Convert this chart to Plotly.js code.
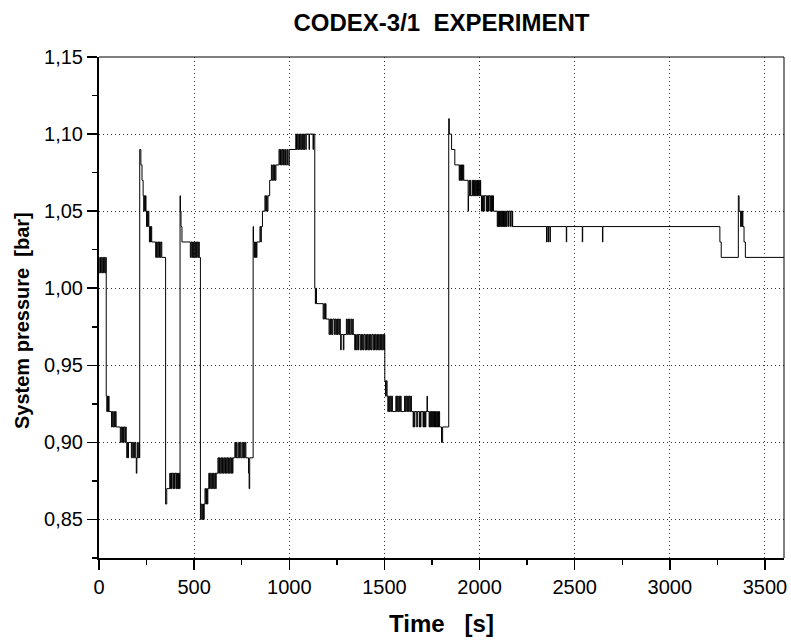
<!DOCTYPE html>
<html>
<head>
<meta charset="utf-8">
<script src="https://cdn.plot.ly/plotly-3.0.1.min.js"></script>
<style>html,body{margin:0;padding:0;background:#fff;}#chart{width:791px;height:641px;}</style>
</head>
<body>
<div id="chart"></div>
<script>
// Time [s] of each recorded sample (step-wise signal)
const timeS = [
  0,4,8,12,16,20,24,28,32,36,
  38,41,44,47,50,53,66,70,74,78,82,86,90,
  112,116,120,124,128,131,136,140,143,146,149,152,155,
  170,174,178,182,186,190,194,196,199,203,206,210,213,
  214,220,226,232,235,238,241,244,247,250,253,256,259,262,265,268,271,274,277,
  298,302,306,310,314,318,322,326,330,
  350,356,372,375,378,381,384,390,393,396,399,405,408,411,414,417,420,423,
  426,428,431,436,480,484,488,492,496,500,504,508,512,516,520,524,527,
  533,537,541,545,549,553,557,561,565,569,572,
  577,581,585,589,593,597,601,605,609,613,616,
  625,629,633,637,641,645,649,653,657,661,665,669,673,677,681,685,689,693,697,701,704,
  714,718,722,726,734,738,742,746,752,756,760,764,768,772,786,789,792,
  810,812,815,818,821,824,827,830,846,850,853,859,872,876,880,884,888,897,
  906,910,914,918,922,926,930,
  946,950,954,958,962,966,970,974,980,984,990,994,1000,
  1034,1038,1042,1046,1050,1054,1058,1062,1066,1070,1074,1078,1081,1087,1089,1104,1106,1125,1127,
  1134,1137,1140,1143,1178,1182,1186,1190,1193,
  1209,1213,1217,1221,1225,1229,1237,1241,1245,1249,1253,1257,1261,1265,1268,1270,1273,1284,1287,
  1300,1304,1308,1312,1316,1320,1326,1330,1334,1336,
  1344,1348,1352,1356,1360,1364,1372,1376,1380,1384,1388,1392,1398,1402,1406,1410,1414,1418,1422,
  1426,1430,1434,1440,1444,1448,1452,1456,1460,1464,1468,1472,1476,1480,1484,1488,1492,1496,1500,
  1502,1506,1510,1514,1518,1522,1526,1530,1534,1538,1542,
  1560,1564,1568,1572,1576,1580,1584,1588,
  1606,1610,1614,1618,1622,1626,1630,1634,1638,1642,
  1651,1654,1657,1660,1670,1673,1683,1686,1689,1692,1703,1706,1709,1712,1715,1718,1724,1726,
  1735,1738,1741,1744,1748,1751,1754,1757,1760,1763,1766,1769,1772,1775,1778,1781,1784,1787,1790,1800,1806,
  1838,1841,1853,1870,1893,1896,1899,1902,1905,1908,1911,1914,1917,
  1940,1942,1945,1948,1951,1954,1962,1965,1968,1971,1974,1977,1980,1983,1986,1989,1992,1995,1998,2001,2004,2006,
  2010,2013,2016,2019,2022,2025,2035,2038,2041,2044,2047,2050,2056,2059,2062,2065,2068,2071,2073,
  2093,2096,2099,2102,2105,2108,2111,2114,2117,2120,2123,2126,2129,2132,2135,2138,2141,2144,2150,2152,2160,2162,2170,2172,2174,
  2352,2354,2360,2362,2370,2372,2456,2458,2540,2542,2646,2648,
  3263,3270,3360,3364,3372,3375,3378,3381,3384,3390,3397,3600
];
// System pressure [bar] at each sample
const pressureBar = [
  1.01,1.02,1.01,1.02,1.01,1.02,1.01,1.02,1.01,1.02,
  0.93,0.92,0.93,0.92,0.93,0.92,0.91,0.92,0.91,0.92,0.91,0.92,0.91,
  0.90,0.91,0.90,0.91,0.90,0.91,0.90,0.91,0.90,0.89,0.90,0.89,0.90,
  0.89,0.90,0.89,0.90,0.89,0.90,0.89,0.88,0.89,0.90,0.89,0.90,0.89,
  1.09,1.08,1.07,1.06,1.05,1.06,1.05,1.06,1.05,1.04,1.05,1.04,1.05,1.04,1.03,1.04,1.03,1.04,1.03,
  1.02,1.03,1.02,1.03,1.02,1.03,1.02,1.03,1.02,
  0.86,0.87,0.88,0.87,0.88,0.87,0.88,0.87,0.88,0.87,0.88,0.87,0.88,0.87,0.88,0.87,0.88,0.87,
  1.06,1.05,1.04,1.03,1.02,1.03,1.02,1.03,1.02,1.03,1.02,1.03,1.02,1.03,1.02,1.03,1.02,
  0.85,0.86,0.85,0.86,0.85,0.86,0.87,0.86,0.87,0.86,0.87,
  0.88,0.87,0.88,0.87,0.88,0.87,0.88,0.87,0.88,0.87,0.88,
  0.89,0.88,0.89,0.88,0.89,0.88,0.89,0.88,0.89,0.88,0.89,0.88,0.89,0.88,0.89,0.88,0.89,0.88,0.89,0.88,0.89,
  0.90,0.89,0.90,0.89,0.90,0.89,0.90,0.89,0.90,0.89,0.90,0.89,0.90,0.89,0.88,0.87,0.89,
  1.04,1.03,1.02,1.03,1.02,1.03,1.02,1.03,1.04,1.03,1.04,1.05,1.06,1.05,1.06,1.05,1.06,1.07,
  1.08,1.07,1.08,1.07,1.08,1.07,1.08,
  1.09,1.08,1.09,1.08,1.09,1.08,1.09,1.08,1.09,1.08,1.09,1.08,1.09,
  1.10,1.09,1.10,1.09,1.10,1.09,1.10,1.09,1.10,1.09,1.10,1.09,1.10,1.09,1.10,1.09,1.10,1.09,1.10,
  1.00,0.99,1.00,0.99,0.98,0.99,0.98,0.99,0.98,
  0.97,0.98,0.97,0.98,0.97,0.98,0.97,0.98,0.97,0.98,0.97,0.98,0.97,0.98,0.97,0.96,0.97,0.96,0.97,
  0.98,0.97,0.98,0.97,0.98,0.97,0.98,0.97,0.98,0.97,
  0.96,0.97,0.96,0.97,0.96,0.97,0.96,0.97,0.96,0.97,0.96,0.97,0.96,0.97,0.96,0.97,0.96,0.97,0.96,
  0.97,0.96,0.97,0.96,0.97,0.96,0.97,0.96,0.97,0.96,0.97,0.96,0.97,0.96,0.97,0.96,0.97,0.96,0.97,
  0.94,0.93,0.94,0.93,0.92,0.93,0.92,0.93,0.92,0.93,0.92,
  0.93,0.92,0.93,0.92,0.93,0.92,0.93,0.92,
  0.93,0.92,0.93,0.92,0.93,0.92,0.93,0.92,0.93,0.92,
  0.91,0.92,0.91,0.92,0.91,0.92,0.91,0.92,0.91,0.92,0.91,0.92,0.91,0.92,0.91,0.92,0.93,0.92,
  0.91,0.92,0.91,0.92,0.91,0.92,0.91,0.92,0.91,0.92,0.91,0.92,0.91,0.92,0.91,0.92,0.91,0.92,0.91,0.90,0.91,
  1.11,1.10,1.09,1.08,1.07,1.08,1.07,1.08,1.07,1.08,1.07,1.08,1.07,
  1.05,1.06,1.07,1.06,1.07,1.06,1.07,1.06,1.07,1.06,1.07,1.06,1.07,1.06,1.07,1.06,1.07,1.06,1.07,1.06,1.07,1.06,
  1.05,1.06,1.05,1.06,1.05,1.06,1.05,1.06,1.05,1.06,1.05,1.06,1.05,1.06,1.05,1.06,1.05,1.06,1.05,
  1.04,1.05,1.04,1.05,1.04,1.05,1.04,1.05,1.04,1.05,1.04,1.05,1.04,1.05,1.04,1.05,1.04,1.05,1.04,1.05,1.04,1.05,1.04,1.05,1.04,
  1.03,1.04,1.03,1.04,1.03,1.04,1.03,1.04,1.03,1.04,1.03,1.04,
  1.03,1.02,1.06,1.05,1.04,1.05,1.04,1.05,1.04,1.03,1.02,1.02
];
const chartTitle = 'CODEX-3/1\u00a0\u00a0EXPERIMENT';
const xTitle = 'Time\u00a0\u00a0\u00a0[s]';
const yTitle = 'System pressure\u00a0\u00a0[bar]';

const FONT = 'Liberation Sans, Arial, Helvetica, sans-serif';

const trace = {
  x: timeS, y: pressureBar, type: 'scatter', mode: 'lines',
  line: {color: '#000', width: 1, shape: 'hv'},
  hoverinfo: 'skip', showlegend: false
};

const axisCommon = {
  showline: true, linecolor: '#000', linewidth: 2,
  ticks: 'outside', ticklen: 10, tickwidth: 1.5, tickcolor: '#000',
  showgrid: true, gridcolor: '#333', gridwidth: 1, griddash: '1px,3px',
  zeroline: false, tickfont: {family: FONT, size: 20, color: '#000'},
  mirror: false
};

const layout = {
  width: 791, height: 641,
  margin: {l: 99, r: 7, t: 57, b: 83},
  paper_bgcolor: '#fff', plot_bgcolor: '#fff',
  separators: ', ',
  font: {family: FONT, color: '#000'},
  title: {
    text: '<b>' + chartTitle + '</b>',
    font: {family: FONT, size: 24, color: '#000'},
    x: 0.5, xref: 'paper', y: 1 - 23/641, yref: 'container', yanchor: 'middle'
  },
  xaxis: Object.assign({}, axisCommon, {
    range: [0, 3600], tick0: 0, dtick: 500, tickformat: 'd',
    minor: {dtick: 250, ticks: 'outside', ticklen: 5, tickwidth: 1.5, tickcolor: '#000', showgrid: false},
    title: {text: '<b>' + xTitle + '</b>', font: {family: FONT, size: 24, color: '#000'}, standoff: 18}
  }),
  yaxis: Object.assign({}, axisCommon, {
    range: [0.825, 1.15], tick0: 0, dtick: 0.05, tickformat: '.2f',
    minor: {dtick: 0.025, ticks: 'outside', ticklen: 5, tickwidth: 1.5, tickcolor: '#000', showgrid: false},
    title: {text: ''}
  }),
  annotations: [{
    text: '<b>' + yTitle + '</b>', textangle: -90,
    xref: 'paper', yref: 'paper', x: -77/685, y: (558-321)/501,
    xanchor: 'center', yanchor: 'middle', showarrow: false,
    font: {family: FONT, size: 20, color: '#000'}
  }],
  shapes: [
    {type: 'line', xref: 'paper', yref: 'paper', x0: 0, x1: 1, y0: 1, y1: 1, line: {color: '#000', width: 1}},
    {type: 'line', xref: 'paper', yref: 'paper', x0: 1, x1: 1, y0: 0, y1: 1, line: {color: '#000', width: 1}}
  ]
};

Plotly.newPlot('chart', [trace], layout, {staticPlot: true, displayModeBar: false});
</script>
</body>
</html>
